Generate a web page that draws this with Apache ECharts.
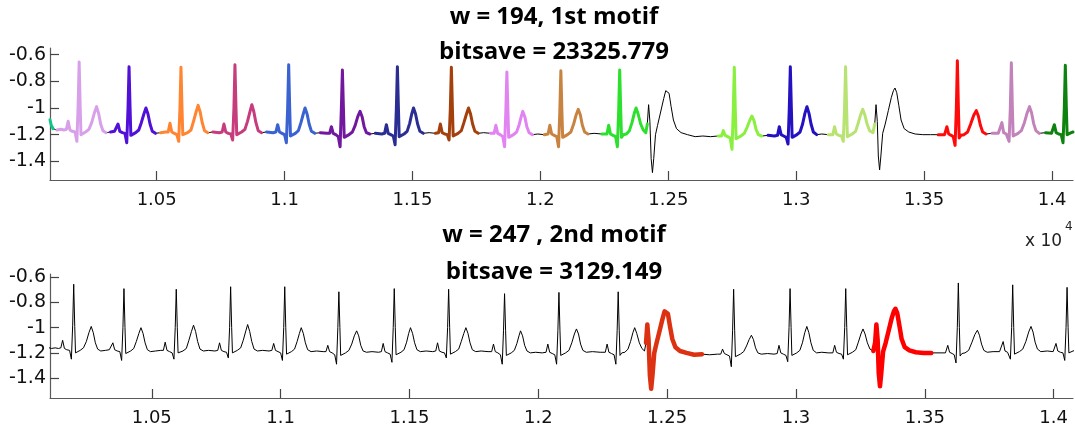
<!DOCTYPE html>
<html>
<head>
<meta charset="utf-8">
<script src="https://cdn.jsdelivr.net/npm/echarts@6/dist/echarts.min.js"></script>
<style>
html,body{margin:0;padding:0;background:#fff;}
#chart{width:1075px;height:430px;}
</style>
</head>
<body>
<div id="chart"></div>
<script>
// ECG signal: [sample index, value]
const signal = [
[10083,-1.088],[10088,-1.13],[10095,-1.155],[10110,-1.165],[10125,-1.16],[10138,-1.165],
[10147,-1.16],[10154,-1.10],[10161,-1.165],[10170,-1.175],[10181,-1.18],[10188,-1.25],[10193,-0.98],[10197,-0.655],[10201,-0.99],[10204,-1.2],[10210,-1.185],[10222,-1.18],[10235,-1.16],[10246,-1.11],[10256,-1.04],[10265,-0.99],[10273,-1.04],[10281,-1.12],[10290,-1.17],[10302,-1.185],[10320,-1.18],[10335,-1.175],
[10342,-1.175],[10349,-1.12],[10356,-1.175],[10366,-1.185],[10376,-1.19],[10383,-1.26],[10388,-1.0],[10392,-0.69],[10396,-1.0],[10399,-1.205],[10406,-1.19],[10418,-1.185],[10430,-1.165],[10440,-1.11],[10450,-1.045],[10458,-1.0],[10466,-1.045],[10474,-1.12],[10483,-1.175],[10495,-1.19],[10515,-1.185],[10535,-1.18],
[10545,-1.18],[10552,-1.115],[10559,-1.18],[10569,-1.19],[10579,-1.2],[10586,-1.25],[10591,-1.0],[10595,-0.695],[10599,-1.0],[10602,-1.2],[10609,-1.19],[10621,-1.185],[10634,-1.165],[10644,-1.1],[10654,-1.03],[10662,-0.98],[10670,-1.03],[10678,-1.11],[10687,-1.17],[10700,-1.185],[10720,-1.18],[10745,-1.185],
[10756,-1.18],[10763,-1.12],[10770,-1.18],[10780,-1.19],[10790,-1.195],[10797,-1.24],[10802,-1.0],[10806,-0.675],[10810,-1.0],[10813,-1.2],[10820,-1.19],[10832,-1.18],[10845,-1.16],[10855,-1.1],[10865,-1.025],[10872,-0.975],[10880,-1.03],[10888,-1.11],[10897,-1.17],[10910,-1.185],[10930,-1.18],[10955,-1.185],
[10966,-1.18],[10973,-1.125],[10980,-1.18],[10990,-1.19],[11000,-1.2],[11007,-1.26],[11012,-1.0],[11016,-0.675],[11020,-1.0],[11023,-1.21],[11030,-1.195],[11042,-1.19],[11054,-1.17],[11064,-1.11],[11073,-1.045],[11080,-1.0],[11088,-1.045],[11096,-1.12],[11105,-1.175],[11118,-1.19],[11140,-1.185],[11165,-1.19],
[11176,-1.19],[11183,-1.14],[11190,-1.19],[11200,-1.2],[11210,-1.215],[11217,-1.29],[11222,-1.0],[11226,-0.715],[11230,-1.0],[11233,-1.22],[11240,-1.205],[11252,-1.2],[11265,-1.18],[11276,-1.13],[11286,-1.065],[11295,-1.025],[11303,-1.065],[11311,-1.14],[11320,-1.185],[11333,-1.195],[11355,-1.19],[11380,-1.195],
[11391,-1.19],[11398,-1.125],[11405,-1.19],[11415,-1.2],[11425,-1.21],[11432,-1.275],[11437,-1.0],[11441,-0.69],[11445,-1.0],[11448,-1.215],[11455,-1.2],[11467,-1.195],[11479,-1.175],[11489,-1.115],[11497,-1.045],[11504,-1.0],[11512,-1.045],[11520,-1.12],[11529,-1.175],[11542,-1.19],[11565,-1.185],[11590,-1.19],
[11602,-1.185],[11609,-1.12],[11616,-1.185],[11626,-1.195],[11636,-1.2],[11643,-1.24],[11648,-1.0],[11652,-0.695],[11656,-1.0],[11659,-1.21],[11666,-1.195],[11678,-1.19],[11691,-1.17],[11701,-1.11],[11711,-1.045],[11719,-1.0],[11727,-1.045],[11735,-1.12],[11744,-1.175],[11757,-1.19],[11778,-1.185],[11805,-1.19],
[11819,-1.19],[11826,-1.13],[11833,-1.19],[11843,-1.2],[11853,-1.215],[11860,-1.29],[11865,-1.02],[11869,-0.73],[11873,-1.02],[11876,-1.22],[11883,-1.205],[11895,-1.2],[11907,-1.18],[11917,-1.125],[11925,-1.065],[11931,-1.025],[11939,-1.065],[11947,-1.14],[11956,-1.185],[11969,-1.2],[11990,-1.195],[12015,-1.2],
[12030,-1.195],[12037,-1.13],[12044,-1.195],[12054,-1.205],[12064,-1.215],[12071,-1.29],[12076,-1.02],[12080,-0.72],[12084,-1.02],[12087,-1.22],[12094,-1.205],[12106,-1.2],[12119,-1.18],[12130,-1.12],[12140,-1.05],[12148,-1.01],[12156,-1.05],[12164,-1.13],[12173,-1.18],[12186,-1.195],[12210,-1.19],[12240,-1.195],
[12260,-1.195],[12267,-1.13],[12274,-1.195],[12284,-1.205],[12294,-1.215],[12301,-1.29],[12306,-1.02],[12310,-0.715],[12314,-1.02],[12317,-1.22],[12324,-1.2],[12336,-1.195],[12348,-1.17],[12358,-1.11],[12367,-1.04],[12374,-1.0],[12382,-1.045],[12392,-1.12],[12402,-1.165],[12412,-1.185],
[12418,-1.12],[12423,-0.975],[12428,-1.1],[12433,-1.38],[12438,-1.485],[12443,-1.38],[12450,-1.2],[12458,-1.13],[12470,-1.03],[12482,-0.93],[12490,-0.87],[12496,-0.855],[12503,-0.89],[12511,-0.99],[12520,-1.09],[12532,-1.155],[12550,-1.185],[12575,-1.2],[12605,-1.215],[12635,-1.21],[12665,-1.215],[12695,-1.21],
[12708,-1.21],[12715,-1.17],[12722,-1.205],[12732,-1.215],[12742,-1.225],[12749,-1.31],[12754,-1.02],[12758,-0.695],[12762,-1.02],[12765,-1.23],[12772,-1.215],[12784,-1.21],[12797,-1.19],[12808,-1.145],[12818,-1.095],[12827,-1.06],[12835,-1.095],[12843,-1.16],[12852,-1.2],[12865,-1.21],[12890,-1.205],[12915,-1.21],
[12927,-1.205],[12934,-1.14],[12941,-1.2],[12951,-1.21],[12961,-1.22],[12968,-1.27],[12973,-1.0],[12977,-0.69],[12981,-1.0],[12984,-1.22],[12991,-1.205],[13003,-1.2],[13015,-1.18],[13025,-1.12],[13034,-1.04],[13042,-0.99],[13050,-1.04],[13058,-1.12],[13067,-1.18],[13080,-1.2],[13100,-1.195],[13125,-1.2],
[13143,-1.2],[13150,-1.14],[13157,-1.195],[13167,-1.205],[13177,-1.21],[13184,-1.25],[13189,-1.0],[13193,-0.69],[13197,-1.0],[13200,-1.215],[13207,-1.2],[13219,-1.195],[13232,-1.175],[13242,-1.115],[13252,-1.05],[13260,-1.01],[13268,-1.05],[13277,-1.12],[13287,-1.17],[13300,-1.185],
[13307,-1.12],[13312,-0.975],[13317,-1.1],[13321,-1.36],[13326,-1.465],[13331,-1.36],[13338,-1.19],[13348,-1.12],[13360,-1.02],[13372,-0.92],[13380,-0.87],[13386,-0.85],[13393,-0.885],[13401,-0.98],[13410,-1.09],[13422,-1.155],[13440,-1.18],[13465,-1.195],[13495,-1.2],[13525,-1.2],[13555,-1.2],
[13580,-1.2],[13589,-1.14],[13596,-1.195],[13606,-1.205],[13614,-1.215],[13621,-1.28],[13626,-1.0],[13630,-0.645],[13634,-1.0],[13637,-1.225],[13644,-1.205],[13656,-1.2],[13670,-1.18],[13682,-1.12],[13694,-1.055],[13704,-1.02],[13712,-1.06],[13720,-1.13],[13729,-1.18],[13742,-1.195],[13765,-1.19],[13790,-1.19],
[13797,-1.19],[13804,-1.11],[13811,-1.185],[13821,-1.195],[13825,-1.2],[13832,-1.25],[13837,-1.0],[13841,-0.66],[13845,-1.0],[13848,-1.21],[13855,-1.195],[13867,-1.19],[13880,-1.17],[13892,-1.11],[13903,-1.035],[13912,-0.99],[13920,-1.035],[13928,-1.115],[13937,-1.17],[13950,-1.19],[13975,-1.185],[13998,-1.19],
[14009,-1.125],[14016,-1.185],[14026,-1.195],[14036,-1.2],[14043,-1.26],[14048,-1.0],[14052,-0.68],[14056,-1.0],[14059,-1.2],[14066,-1.19],[14075,-1.185],[14082,-1.18]
];

// 1st motif (w = 194): instance windows [start, end] and colours
const motif1Starts = [10083,10100,10310,10513,10720,10924,11139,11342,11569,11784,11999,12226,12675,12879,13105,13543,13751,13966];
const motif1Ends   = [10100,10310,10505,10709,10920,11123,11342,11549,11771,11979,12201,12421,12871,13094,13309,13746,13966,14082];
const motif1Colors = ['#12c48a','#d9a0ea','#5010d8','#ff8533','#c63c7c','#3a62d0','#72189e','#2a2e92','#a3400c','#e184f2','#c98341','#2de02d','#8af040','#2412c2','#b8e272','#ff0a0a','#c283bb','#0e820e'];

// 2nd motif (w = 247)
const motif2Starts = [12414,13290];
const motif2Ends   = [12661,13537];
const motif2Colors = ['#dc3212','#ff0000'];

const xTickValues = [10500,11000,11500,12000,12500,13000,13500,14000];
const xTickLabels = ['1.05','1.1','1.15','1.2','1.25','1.3','1.35','1.4'];
const yTickValues = [-1.4,-1.2,-1,-0.8,-0.6];
const yTickLabels = ['-1.4','-1.2','-1','-0.8','-0.6'];

const titles1 = ['w = 194, 1st motif','bitsave = 23325.779'];
const titles2 = ['w = 247 , 2nd motif','bitsave = 3129.149'];

function seg(s,e){ return signal.filter(p => p[0] >= s && p[0] <= e); }
function fmt(vals, labels){ return v => { for (let i=0;i<vals.length;i++){ if (Math.abs(vals[i]-v) < 1e-6) return labels[i]; } return ''; }; }

const tickFont = 'DejaVu Sans';
function xAx(idx, min, max){
  return {
    gridIndex: idx, type:'value', min:min, max:max,
    axisLine:{show:true, onZero:false, lineStyle:{color:'#5a5a5a', width:1.2}},
    axisTick:{show:true, inside:true, length:9, customValues:xTickValues, lineStyle:{color:'#444', width:1.2}},
    axisLabel:{show:true, customValues:xTickValues, formatter:fmt(xTickValues,xTickLabels), color:'#111', fontFamily:tickFont, fontSize:18, margin:11},
    splitLine:{show:false}
  };
}
function yAx(idx, min, max){
  return {
    gridIndex: idx, type:'value', min:min, max:max,
    axisLine:{show:true, onZero:false, lineStyle:{color:'#5a5a5a', width:1.2}},
    axisTick:{show:true, inside:true, length:9, customValues:yTickValues, lineStyle:{color:'#444', width:1.2}},
    axisLabel:{show:true, customValues:yTickValues, formatter:fmt(yTickValues,yTickLabels), color:'#111', fontFamily:tickFont, fontSize:19, margin:4},
    splitLine:{show:false}
  };
}

const series = [];
series.push({type:'line', xAxisIndex:0, yAxisIndex:0, data:signal, showSymbol:false, lineStyle:{color:'#000', width:1}, z:2, silent:true});
for (let i=0;i<motif1Starts.length;i++){
  series.push({type:'line', xAxisIndex:0, yAxisIndex:0, data:seg(motif1Starts[i],motif1Ends[i]), showSymbol:false,
    lineStyle:{color:motif1Colors[i], width:3, join:'round', cap:'round'}, z:3, silent:true});
}
series.push({type:'line', xAxisIndex:1, yAxisIndex:1, data:signal, showSymbol:false, lineStyle:{color:'#000', width:1}, z:2, silent:true});
for (let i=0;i<motif2Starts.length;i++){
  series.push({type:'line', xAxisIndex:1, yAxisIndex:1, data:seg(motif2Starts[i],motif2Ends[i]), showSymbol:false,
    lineStyle:{color:motif2Colors[i], width:4.5, join:'round', cap:'round'}, z:3, silent:true});
}

const titleFont = 'bold 24px "Open Sans", "DejaVu Sans", sans-serif';
const chart = echarts.init(document.getElementById('chart'));
chart.setOption({
  animation:false,
  backgroundColor:'#fff',
  grid:[
    {left:50, top:48, width:1023, height:132},
    {left:50, top:274, width:1023, height:124}
  ],
  xAxis:[xAx(0,10083,14082), xAx(1,10105,14075)],
  yAxis:[yAx(0,-1.54,-0.55), yAx(1,-1.558,-0.574)],
  series: series,
  graphic:[
    {type:'text', x:554, y:17, z:10, style:{text:titles1[0], font:titleFont, fill:'#000', textAlign:'center', textVerticalAlign:'middle'}},
    {type:'text', x:554, y:52, z:10, style:{text:titles1[1], font:titleFont, fill:'#000', textAlign:'center', textVerticalAlign:'middle'}},
    {type:'text', x:554, y:235, z:10, style:{text:titles2[0], font:titleFont, fill:'#000', textAlign:'center', textVerticalAlign:'middle'}},
    {type:'text', x:554, y:272, z:10, style:{text:titles2[1], font:titleFont, fill:'#000', textAlign:'center', textVerticalAlign:'middle'}},
    {type:'text', x:1025, y:242, z:10, style:{text:'x 10', font:'17px "DejaVu Sans"', fill:'#222', textAlign:'left', textVerticalAlign:'middle'}},
    {type:'text', x:1065, y:227, z:10, style:{text:'4', font:'12px "DejaVu Sans"', fill:'#222', textAlign:'left', textVerticalAlign:'middle'}}
  ]
});
</script>
</body>
</html>
